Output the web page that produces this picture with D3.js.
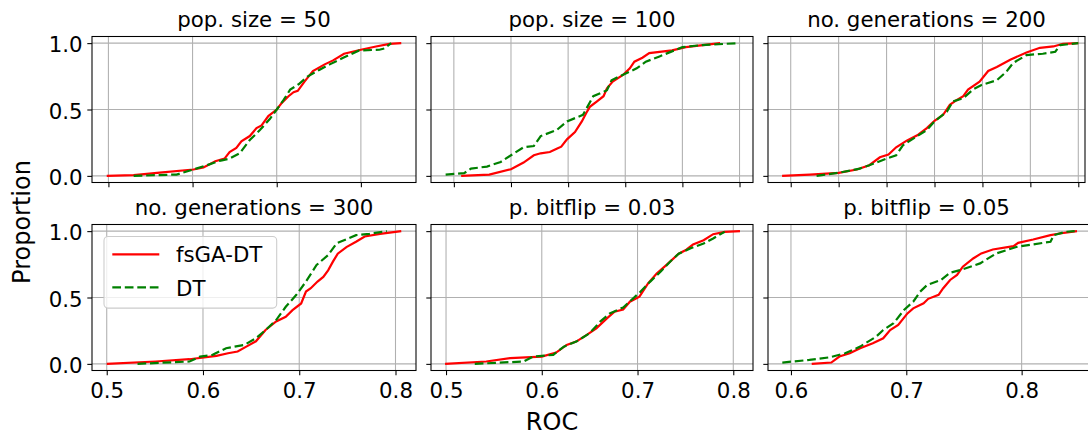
<!DOCTYPE html>
<html>
<head>
<meta charset="utf-8">
<script src="https://cdn.jsdelivr.net/npm/d3@7"></script>
<style>
body { margin: 0; background: #fff; }
text { font-family: "DejaVu Sans", sans-serif; fill: #000; }
</style>
</head>
<body>
<script>

// ---- data: [ROC, proportion] ----
var seriesNames = ["fsGA-DT", "DT"];
var panelTitles = ["pop. size = 50", "pop. size = 100", "no. generations = 200",
                   "no. generations = 300", "p. bitflip = 0.03", "p. bitflip = 0.05"];
var yTicks = [0, 0.5, 1];
var xTicks = [
  [0.5, 0.6, 0.7, 0.8],
  [0.55, 0.6, 0.65, 0.7, 0.75, 0.8],
  [0.5, 0.55, 0.6, 0.65, 0.7, 0.75, 0.8],
  [0.5, 0.6, 0.7, 0.8],
  [0.5, 0.6, 0.7, 0.8],
  [0.6, 0.7, 0.8]
];
var xLimits = [
  [0.4805, 0.8655], [0.530, 0.8118], [0.4763, 0.807],
  [0.4847, 0.8213], [0.4843, 0.8206], [0.5801, 0.861]
];

var popSize50Fsga = [[0.498,0],[0.53,0.005],[0.561,0.025],[0.601,0.048],[0.613,0.063],[0.627,0.11],
  [0.638,0.13],[0.644,0.18],[0.652,0.21],[0.658,0.26],[0.668,0.30],[0.676,0.36],[0.682,0.38],
  [0.690,0.45],[0.70,0.50],[0.706,0.55],[0.714,0.60],[0.72,0.63],[0.725,0.64],[0.733,0.71],
  [0.743,0.79],[0.757,0.84],[0.767,0.87],[0.780,0.92],[0.800,0.95],[0.818,0.975],[0.834,0.995],[0.848,1]];
var popSize50Dt = [[0.53,0],[0.581,0.01],[0.601,0.048],[0.617,0.08],[0.632,0.113],[0.644,0.13],
  [0.656,0.17],[0.668,0.27],[0.680,0.345],[0.692,0.43],[0.70,0.50],[0.708,0.57],[0.716,0.65],
  [0.726,0.69],[0.737,0.75],[0.751,0.80],[0.763,0.84],[0.779,0.89],[0.798,0.945],[0.822,0.95],
  [0.828,0.96],[0.836,1]];

var popSize100Fsga = [[0.5564,0],[0.581,0.01],[0.6,0.05],[0.611,0.10],[0.620,0.155],[0.626,0.17],
  [0.634,0.18],[0.640,0.205],[0.644,0.22],[0.649,0.275],[0.656,0.33],[0.662,0.41],[0.666,0.475],
  [0.669,0.52],[0.675,0.56],[0.681,0.60],[0.684,0.66],[0.689,0.71],[0.698,0.76],[0.704,0.81],
  [0.708,0.86],[0.715,0.89],[0.721,0.925],[0.741,0.945],[0.753,0.97],[0.783,1]];
var popSize100Dt = [[0.5428,0.01],[0.559,0.02],[0.565,0.055],[0.579,0.07],[0.591,0.105],[0.6,0.155],
  [0.611,0.215],[0.620,0.225],[0.626,0.30],[0.640,0.345],[0.649,0.41],[0.663,0.46],[0.672,0.60],
  [0.684,0.645],[0.688,0.72],[0.695,0.75],[0.710,0.81],[0.718,0.86],[0.730,0.90],[0.75,0.97],
  [0.767,0.985],[0.799,1]];

var gens200Fsga = [[0.491,0],[0.520,0.01],[0.55,0.023],[0.569,0.048],[0.582,0.08],[0.593,0.14],
  [0.602,0.16],[0.610,0.215],[0.621,0.265],[0.633,0.31],[0.642,0.36],[0.65,0.415],[0.659,0.46],
  [0.666,0.535],[0.673,0.57],[0.680,0.60],[0.685,0.65],[0.697,0.71],[0.706,0.79],[0.715,0.82],
  [0.729,0.875],[0.746,0.93],[0.760,0.965],[0.774,0.975],[0.784,0.995],[0.8,1]];
var gens200Dt = [[0.527,0],[0.55,0.023],[0.572,0.055],[0.582,0.08],[0.6,0.13],[0.610,0.155],
  [0.617,0.23],[0.631,0.295],[0.642,0.345],[0.65,0.41],[0.663,0.485],[0.669,0.56],[0.680,0.585],
  [0.690,0.65],[0.699,0.685],[0.715,0.72],[0.725,0.785],[0.732,0.85],[0.746,0.91],[0.763,0.92],
  [0.776,0.935],[0.781,0.985],[0.8,1]];

var gens300Fsga = [[0.5,0],[0.551,0.018],[0.586,0.035],[0.614,0.06],[0.626,0.08],[0.636,0.093],
  [0.645,0.13],[0.655,0.17],[0.665,0.255],[0.676,0.32],[0.686,0.355],[0.693,0.405],[0.702,0.455],
  [0.707,0.545],[0.712,0.57],[0.719,0.62],[0.725,0.655],[0.730,0.705],[0.735,0.77],[0.740,0.83],
  [0.749,0.88],[0.759,0.92],[0.768,0.96],[0.784,0.98],[0.806,1]];
var gens300Dt = [[0.532,0],[0.586,0.018],[0.597,0.055],[0.610,0.068],[0.624,0.118],[0.643,0.143],
  [0.655,0.193],[0.665,0.255],[0.676,0.33],[0.686,0.43],[0.697,0.52],[0.707,0.62],[0.718,0.745],
  [0.730,0.82],[0.739,0.91],[0.751,0.945],[0.759,0.97],[0.773,0.98],[0.791,1]];

var bitflip003Fsga = [[0.499,0],[0.542,0.018],[0.567,0.043],[0.6,0.055],[0.615,0.085],[0.626,0.143],
  [0.636,0.168],[0.647,0.218],[0.657,0.268],[0.668,0.343],[0.676,0.393],[0.685,0.41],[0.692,0.468],
  [0.702,0.506],[0.711,0.606],[0.720,0.68],[0.730,0.744],[0.743,0.83],[0.751,0.86],[0.758,0.90],
  [0.769,0.932],[0.779,0.977],[0.791,0.995],[0.807,1]];
var bitflip003Dt = [[0.530,0],[0.581,0.018],[0.591,0.055],[0.612,0.068],[0.623,0.13],[0.636,0.168],
  [0.650,0.231],[0.661,0.318],[0.671,0.38],[0.685,0.425],[0.703,0.543],[0.713,0.618],[0.724,0.694],
  [0.734,0.77],[0.743,0.83],[0.755,0.87],[0.769,0.907],[0.779,0.945],[0.791,0.995]];

var bitflip005Fsga = [[0.618,0],[0.635,0.01],[0.642,0.055],[0.651,0.08],[0.660,0.118],[0.671,0.155],
  [0.680,0.193],[0.686,0.255],[0.693,0.293],[0.701,0.38],[0.706,0.418],[0.715,0.456],[0.719,0.49],
  [0.728,0.52],[0.732,0.57],[0.738,0.632],[0.744,0.67],[0.749,0.732],[0.758,0.794],[0.765,0.832],
  [0.775,0.862],[0.793,0.887],[0.797,0.912],[0.810,0.937],[0.825,0.97],[0.833,0.982],[0.848,1]];
var bitflip005Dt = [[0.5925,0.01],[0.616,0.03],[0.634,0.05],[0.647,0.08],[0.660,0.13],[0.674,0.206],
  [0.680,0.255],[0.689,0.306],[0.698,0.406],[0.706,0.468],[0.712,0.544],[0.718,0.594],[0.730,0.632],
  [0.738,0.687],[0.747,0.707],[0.764,0.757],[0.778,0.832],[0.796,0.882],[0.825,0.92],[0.828,0.97],
  [0.838,0.995],[0.846,1]];

var panelSeries = [
  [popSize50Fsga, popSize50Dt], [popSize100Fsga, popSize100Dt], [gens200Fsga, gens200Dt],
  [gens300Fsga, gens300Dt], [bitflip003Fsga, bitflip003Dt], [bitflip005Fsga, bitflip005Dt]
];

// ---- layout ----
var width = 1088, height = 436;
var colLeft = [92, 431, 768], colRight = [416, 753, 1085];
var rowTop = [36.5, 224.5], plotH = 146;
var colors = ["red", "green"];
var dashes = [null, "8.7,3.8"];
var tickFont = 21.3, labelFont = 24;

var svg = d3.select("body").append("svg")
  .attr("width", width)
  .attr("height", height)
  .style("background", "#fff");

panelTitles.forEach(function(title, i) {
  var row = Math.floor(i / 3), col = i % 3;
  var x0 = colLeft[col], x1 = colRight[col];
  if (i == 5) x1 = 1092;   // last panel runs off the edge
  var y0 = rowTop[row], y1 = y0 + plotH;

  var x = d3.scaleLinear().domain(xLimits[i]).range([x0, x1]);
  var y = d3.scaleLinear().domain([-0.05, 1.05]).range([y1, y0]);

  var g = svg.append("g");

  g.append("clipPath").attr("id", "clip" + i)
    .append("rect").attr("x", x0).attr("y", y0).attr("width", x1 - x0).attr("height", y1 - y0);

  // grid
  g.selectAll(".gx").data(xTicks[i]).enter().append("line")
    .attr("x1", d => x(d)).attr("x2", d => x(d))
    .attr("y1", y0).attr("y2", y1)
    .style("stroke", "#b0b0b0").style("stroke-width", 1.07);
  g.selectAll(".gy").data(yTicks).enter().append("line")
    .attr("x1", x0).attr("x2", x1)
    .attr("y1", d => y(d)).attr("y2", d => y(d))
    .style("stroke", "#b0b0b0").style("stroke-width", 1.07);

  // curves
  var line = d3.line().x(d => x(d[0])).y(d => y(d[1]));
  panelSeries[i].forEach(function(s, k) {
    g.append("path")
      .datum(s)
      .attr("d", line)
      .attr("clip-path", "url(#clip" + i + ")")
      .style("fill", "none")
      .style("stroke", colors[k])
      .style("stroke-width", 2.2)
      .style("stroke-dasharray", dashes[k]);
  });

  // axes
  var ax = g.append("g").attr("transform", "translate(0," + y1 + ")")
    .call(d3.axisBottom(x).tickValues(xTicks[i]).tickSize(4.7).tickPadding(7.5)
      .tickFormat(row == 1 ? d3.format(".1f") : ""));
  var ay = g.append("g").attr("transform", "translate(" + x0 + ",0)")
    .call(d3.axisLeft(y).tickValues(yTicks).tickSize(4.7).tickPadding(4.7)
      .tickFormat(col == 0 ? d3.format(".1f") : ""));
  [ax, ay].forEach(function(a) {
    a.select(".domain").remove();
    a.selectAll(".tick line").style("stroke", "#000").style("stroke-width", 1.07);
    a.selectAll(".tick text").style("font-size", tickFont + "px")
      .style("font-family", "'DejaVu Sans', sans-serif").attr("fill", "#000");
  });
  ay.selectAll(".tick text").attr("dy", "0.4em");

  // frame
  g.append("rect")
    .attr("x", x0).attr("y", y0).attr("width", x1 - x0).attr("height", y1 - y0)
    .style("fill", "none").style("stroke", "#000").style("stroke-width", 1.07);

  g.append("text")
    .attr("x", (colLeft[col] + colRight[col]) / 2)
    .attr("y", y0 - 9.5)
    .attr("text-anchor", "middle")
    .style("font-size", tickFont + "px")
    .text(title);

  // legend in the first bottom panel
  if (i == 3) {
    var lg = g.append("g").attr("transform", "translate(" + (x0 + 12) + "," + (y0 + 12) + ")");
    lg.append("rect")
      .attr("width", 172.7).attr("height", 71.6).attr("rx", 4)
      .style("fill", "#fff").style("fill-opacity", 0.8)
      .style("stroke", "#cccccc").style("stroke-width", 1.07);
    seriesNames.forEach(function(name, k) {
      lg.append("line")
        .attr("x1", 8.3).attr("x2", 55.3)
        .attr("y1", 17.8 + k * 33).attr("y2", 17.8 + k * 33)
        .style("stroke", colors[k]).style("stroke-width", 2.2)
        .style("stroke-dasharray", dashes[k]);
      lg.append("text")
        .attr("x", 72).attr("y", 25.5 + k * 33.5)
        .style("font-size", tickFont + "px")
        .text(name);
    });
  }
});

svg.append("text")
  .attr("x", 552).attr("y", 429.5)
  .attr("text-anchor", "middle")
  .style("font-size", labelFont + "px")
  .text("ROC");

svg.append("text")
  .attr("transform", "translate(30,222) rotate(-90)")
  .attr("text-anchor", "middle")
  .style("font-size", labelFont + "px")
  .text("Proportion");

</script>
</body>
</html>
